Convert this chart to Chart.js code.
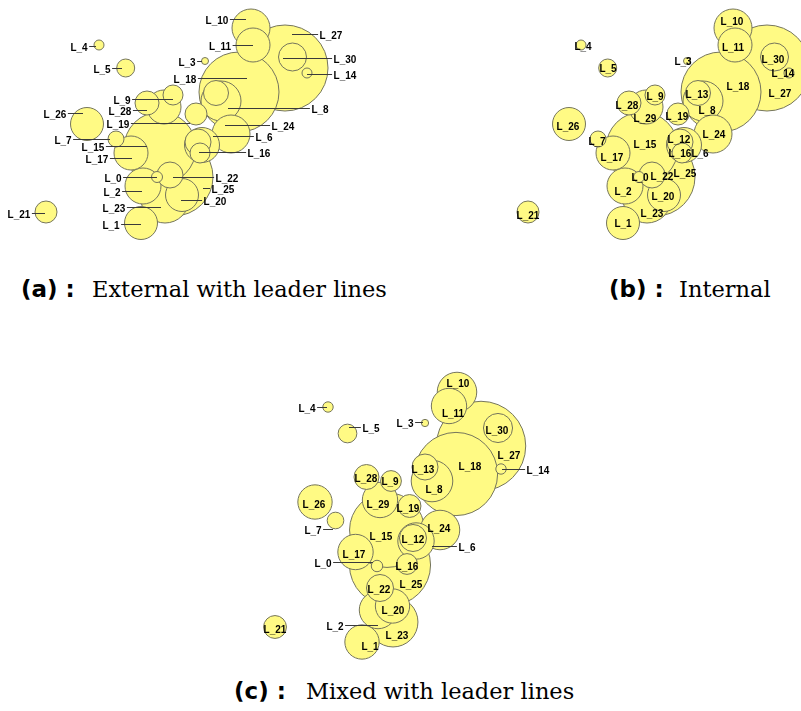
<!DOCTYPE html>
<html>
<head>
<meta charset="utf-8">
<script src="https://cdn.jsdelivr.net/npm/chart.js@4.4.1/dist/chart.umd.min.js"></script>
<style>
  html, body { margin: 0; padding: 0; background: #ffffff; }
  body { width: 801px; height: 711px; position: relative; overflow: hidden; }
  canvas { position: absolute; }
  .cap { position: absolute; white-space: nowrap; color: #000; line-height: 28px; }
  .tag { font-family: "DejaVu Sans", sans-serif; font-weight: bold; font-size: 23px; }
  .txt { font-family: "DejaVu Serif", serif; font-size: 22.5px; }
</style>
</head>
<body>
<canvas id="external" width="360" height="245" style="left:0;top:0;width:360px;height:245px"></canvas>
<canvas id="internal" width="319" height="245" style="left:482px;top:0;width:319px;height:245px"></canvas>
<canvas id="mixed" width="310" height="305" style="left:250px;top:360px;width:310px;height:305px"></canvas>

<div class="cap tag" style="left:21px;top:275px">(a) :</div>
<div class="cap txt" style="left:92px;top:275px">External with leader lines</div>
<div class="cap tag" style="left:609px;top:275px">(b) :</div>
<div class="cap txt" style="left:679px;top:275px">Internal</div>
<div class="cap tag" style="left:234px;top:677px">(c) :</div>
<div class="cap txt" style="left:306px;top:677px">Mixed with leader lines</div>

<script>
// Point names
const names = ['L_0','L_1','L_2','L_3','L_4','L_5','L_6','L_7','L_8','L_9','L_10',
  'L_11','L_12','L_13','L_14','L_15','L_16','L_17','L_18','L_19','L_20',
  'L_21','L_22','L_23','L_24','L_25','L_26','L_27','L_28','L_29','L_30'];

// Bubble size of each point
const sizes = [5.5,16.5,18,3.5,5,9,17.5,8,20,10,19,17,13,12.5,5,36,10,17,40,11,16.5,
  11,13,24,19,39,16.5,43,12,17,14];

// Point coordinates for the external / internal layouts
const xs = [157,141,143,205,99,125.7,202,116,221,173,251,253,198,216,307,160,200,131,239,196,182,
  46,170,165,231,174,87,285,147,164,292.5];
const ys = [177,223,186,61,45,68,145,139,101,95,28,45,142,93,73,148,153,153,92,114,195,
  212,175,199,134,177,124,68,103,107,57];

// Point coordinates for the mixed layout
const xsMixed = [377,362,378,425,328,347.5,416,335.5,432,391,457,449,413,425,501,387,407,355.5,456,409.5,392.5,
  275,380,393,440,390,315,481,366.5,380,498];
const ysMixed = [566,642,610,423,407,433.5,541,520.5,481,481,392,406,538,467,469,530,564,552,474,506,606,
  627,588,622,530,565,502,446,477,500,428];

// Label placement: external layout (text centre + leader end x)
const extLabelX = [113,111,112,187,79,102,264,63,320,122,217,220,null,null,345,93,259,97,185,118,215,
  19,227,114,283,223,55,331,120,null,345];
const extLabelY = [178,225,192,62,47,69,137,140,109,100,20,46,null,null,75,147,153,159,79,124,201,
  214,178,208,126,189,114,35,111,null,59];
const extLeaderTo = [157,141,142,202,96,122,213,110,228,173,246,253,null,null,307,147,199,132,247,190,181,
  45,173,161,225,203,83,292,147,null,283];

// Label placement: internal layout
const inLabelX = [158,141,141,201,101,126,218,115,225,173,250,251,197,215,301,163,198,130,256,195,181,
  46,180,170,232,203,86,298,145,163,291];
const inLabelY = [177,223,191,61,46,68,153,141,110,96,21,47,139,94,73,144,153,157,86,116,196,
  215,176,213,134,173,126,93,105,118,59];

// Label placement: mixed layout (leader only where given)
const mixLabelX = [323,370,335,405,307,371,467,313,434,390,458,453,413,423,538,381,407,354,470,408,393,
  275,379,397,439,411,314,509,366,378,497];
const mixLabelY = [563,646,626,423,408,428,547,530,489,481,383,413,539,469,470,536,566,554,466,508,610,
  629,589,635,528,584,504,455,478,504,430];
const mixLeaderTo = [373,null,378,423,327,349,432,333,null,null,null,null,null,null,502,null,null,null,null,null,null,
  null,null,null,null,null,null,null,null,null,null];

const FILL = '#fffa84';
const EDGE = '#75755c';

// Draws point names and their leader lines on top of the bubbles
const bubbleLabels = {
  id: 'bubbleLabels',
  afterDatasetsDraw(chart, args, opts) {
    const ctx = chart.ctx;
    const sx = chart.scales.x, sy = chart.scales.y;
    ctx.save();
    ctx.font = 'bold 10px "Liberation Sans", Arial, sans-serif';
    ctx.textAlign = 'center';
    ctx.textBaseline = 'middle';
    ctx.strokeStyle = '#3a3a3a';
    ctx.lineWidth = 1;
    opts.lx.forEach((lx, i) => {
      if (lx == null) return;
      const px = sx.getPixelForValue(lx);
      const py = sy.getPixelForValue(opts.ly[i]);
      const to = opts.to ? opts.to[i] : null;
      if (to != null) {
        const w = ctx.measureText(names[i]).width;
        const ax = sx.getPixelForValue(to);
        const start = ax > px ? px + w / 2 + 1.5 : px - w / 2 - 1.5;
        const ly = Math.round(py - 1) + 0.5;
        ctx.beginPath();
        ctx.moveTo(start, ly);
        ctx.lineTo(ax, ly);
        ctx.stroke();
      }
      ctx.fillStyle = '#000';
      ctx.fillText(names[i], px, py + 1);
    });
    ctx.restore();
  }
};

function bubbleChart(id, px, py, scale, range, labels) {
  // larger bubbles first so smaller ones stay visible on top
  const order = names.map((_, i) => i).sort((a, b) => sizes[b] - sizes[a]);
  const points = order.map(i => ({ x: px[i], y: py[i], r: sizes[i] * scale }));
  return new Chart(document.getElementById(id), {
    type: 'bubble',
    data: {
      datasets: [{
        data: points,
        backgroundColor: FILL,
        borderColor: EDGE,
        borderWidth: 1,
        hoverBorderWidth: 1,
        hoverRadius: 0
      }]
    },
    options: {
      responsive: false,
      animation: false,
      devicePixelRatio: 1,
      events: [],
      layout: { padding: 0, autoPadding: false },
      scales: {
        x: { type: 'linear', min: range[0], max: range[1], display: false },
        y: { type: 'linear', min: range[2], max: range[3], reverse: true, display: false }
      },
      plugins: {
        legend: { display: false },
        tooltip: { enabled: false },
        bubbleLabels: labels
      }
    },
    plugins: [bubbleLabels]
  });
}

bubbleChart('external', xs, ys, 1, [0, 360, 0, 245],
  { lx: extLabelX, ly: extLabelY, to: extLeaderTo });
bubbleChart('internal', xs, ys, 1, [0, 319, 0, 245],
  { lx: inLabelX, ly: inLabelY, to: null });
bubbleChart('mixed', xsMixed, ysMixed, 1.04, [250, 560, 360, 665],
  { lx: mixLabelX, ly: mixLabelY, to: mixLeaderTo });
</script>
</body>
</html>
